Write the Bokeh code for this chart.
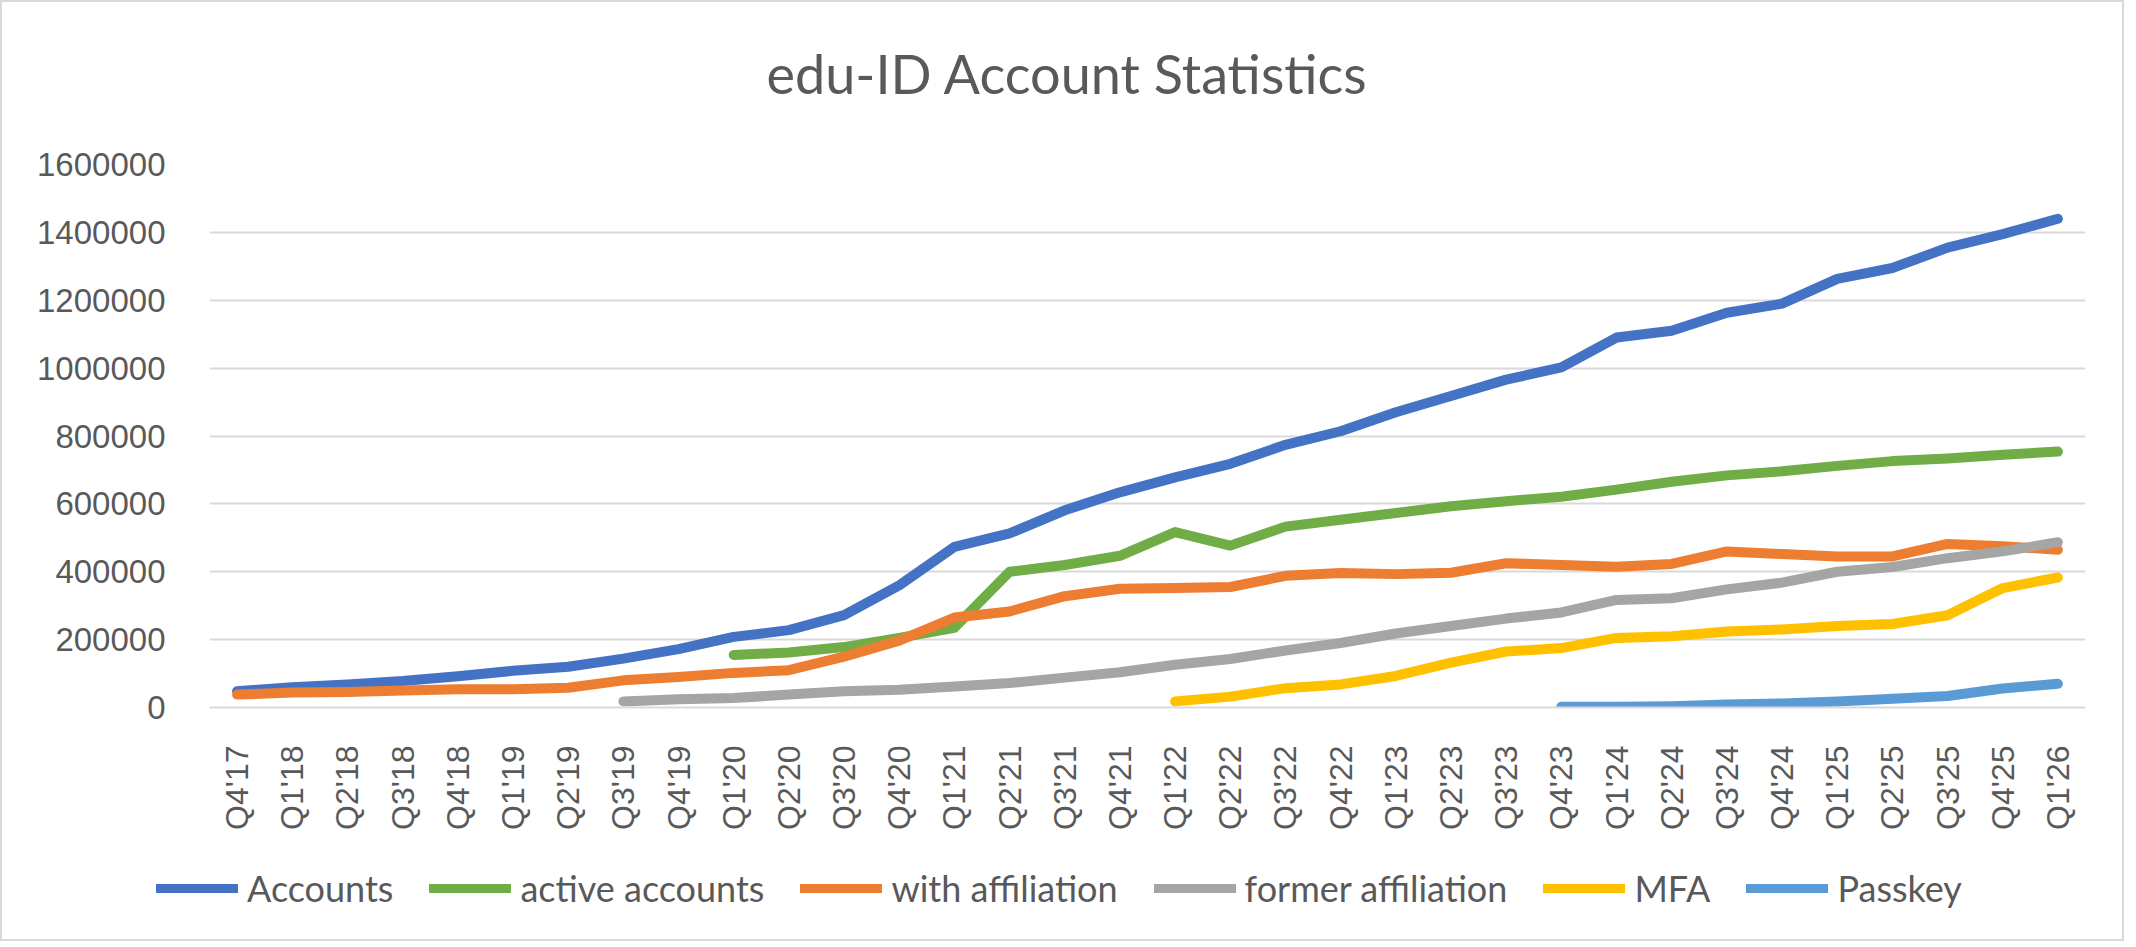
import math
from bokeh.plotting import figure
from bokeh.layouts import column
from bokeh.models import Legend, LegendItem, FactorRange, Range1d, FixedTicker, NumeralTickFormatter, Label
from bokeh.embed import file_html
from bokeh.resources import INLINE

nan = float("nan")

quarters = ["Q4'17",
            "Q1'18", "Q2'18", "Q3'18", "Q4'18",
            "Q1'19", "Q2'19", "Q3'19", "Q4'19",
            "Q1'20", "Q2'20", "Q3'20", "Q4'20",
            "Q1'21", "Q2'21", "Q3'21", "Q4'21",
            "Q1'22", "Q2'22", "Q3'22", "Q4'22",
            "Q1'23", "Q2'23", "Q3'23", "Q4'23",
            "Q1'24", "Q2'24", "Q3'24", "Q4'24",
            "Q1'25", "Q2'25", "Q3'25", "Q4'25",
            "Q1'26"]

accounts = [48000,
            60000, 68000, 78000, 92000,
            108000, 120000, 144000, 172000,
            208000, 228000, 272000, 360000,
            473000, 513000, 581000, 634000,
            678000, 718000, 774000, 814000,
            870000, 918000, 966000, 1002000,
            1090000, 1110000, 1163000, 1190000,
            1263000, 1295000, 1355000, 1395000,
            1440000]

active_accounts = [nan,
                   nan, nan, nan, nan,
                   nan, nan, nan, nan,
                   155000, 162000, 178000, 205000,
                   235000, 400000, 420000, 447000,
                   517000, 477000, 533000, 553000,
                   573000, 593000, 608000, 621000,
                   642000, 665000, 684000, 696000,
                   712000, 726000, 734000, 745000,
                   754000]

with_affiliation = [38000,
                    44000, 46000, 50000, 54000,
                    54000, 58000, 80000, 90000,
                    102000, 110000, 150000, 197000,
                    265000, 283000, 328000, 350000,
                    352000, 355000, 388000, 396000,
                    393000, 397000, 425000, 420000,
                    415000, 423000, 460000, 452000,
                    445000, 445000, 482000, 475000,
                    465000]

former_affiliation = [nan,
                      nan, nan, nan, nan,
                      nan, nan, 18000, 24000,
                      28000, 38000, 48000, 52000,
                      62000, 72000, 88000, 104000,
                      126000, 143000, 168000, 190000,
                      218000, 240000, 262000, 280000,
                      317000, 322000, 348000, 368000,
                      400000, 414000, 440000, 460000,
                      487000]

mfa = [nan,
       nan, nan, nan, nan,
       nan, nan, nan, nan,
       nan, nan, nan, nan,
       nan, nan, nan, nan,
       18000, 32000, 57000, 68000,
       93000, 132000, 165000, 175000,
       205000, 210000, 224000, 230000,
       240000, 246000, 272000, 352000,
       383000]

passkey = [nan,
           nan, nan, nan, nan,
           nan, nan, nan, nan,
           nan, nan, nan, nan,
           nan, nan, nan, nan,
           nan, nan, nan, nan,
           nan, nan, nan, 2000,
           2000, 4000, 9000, 12000,
           18000, 26000, 34000, 56000,
           70000]

y_ticks = [0, 200000, 400000, 600000, 800000, 1000000, 1200000, 1400000, 1600000]

chart_title = "edu-ID Account Statistics"

series = [
    ("Accounts", accounts, "#4472C4"),
    ("active accounts", active_accounts, "#70AD47"),
    ("with affiliation", with_affiliation, "#ED7D31"),
    ("former affiliation", former_affiliation, "#A5A5A5"),
    ("MFA", mfa, "#FFC000"),
    ("Passkey", passkey, "#5B9BD5"),
]

TEXT = "#595959"
GRID = "#D9D9D9"
W = 2120
FRAME_W = 1876   # width of the aligned plot frame


def strip(height, left, right, xmax):
    f = figure(width=W, height=height, x_range=Range1d(0, xmax), y_range=Range1d(0, height),
               output_backend="svg", toolbar_location=None,
               x_axis_location=None, y_axis_location=None,
               min_border=0, min_border_left=left, min_border_right=right,
               min_border_top=0, min_border_bottom=0)
    f.title = None
    f.grid.visible = False
    f.outline_line_color = None
    f.border_fill_color = "white"
    f.background_fill_color = "white"
    return f


# ---- title strip (frame aligned with the chart frame) ----
t = strip(118, 207, 37, FRAME_W)
t.add_layout(Label(x=858, y=47, text=chart_title, text_align="center",
                   text_baseline="middle", text_font="Lato", text_font_size="54px",
                   text_color=TEXT))

# ---- main chart ----
p = figure(width=W, height=727,
           x_range=FactorRange(*quarters), y_range=Range1d(0, 1600000),
           output_backend="svg", toolbar_location=None,
           min_border_left=207, min_border_right=37,
           min_border_top=44, min_border_bottom=140)
p.title = None
p.outline_line_color = None
p.background_fill_color = "white"
p.border_fill_color = "white"

p.xgrid.grid_line_color = None
p.ygrid.grid_line_color = GRID
p.ygrid.grid_line_width = 2

p.yaxis.ticker = FixedTicker(ticks=y_ticks)
p.yaxis.formatter = NumeralTickFormatter(format="0")
p.yaxis.axis_line_color = None
p.yaxis.major_tick_line_color = None
p.yaxis.minor_tick_line_color = None
p.yaxis.major_label_text_font = "Liberation Sans"
p.yaxis.major_label_text_font_size = "33px"
p.yaxis.major_label_text_color = TEXT
p.yaxis.major_label_standoff = 38

p.xaxis.axis_line_color = GRID
p.xaxis.axis_line_width = 2
p.xaxis.major_tick_line_color = None
p.xaxis.minor_tick_line_color = None
p.xaxis.major_tick_out = 0
p.xaxis.major_tick_in = 0
p.xaxis.major_label_orientation = math.pi / 2
p.xaxis.major_label_text_font = "Liberation Sans"
p.xaxis.major_label_text_font_size = "32px"
p.xaxis.major_label_text_color = TEXT
p.xaxis.major_label_standoff = 38

for name, vals, color in series:
    p.line(quarters, vals, line_color=color, line_width=10,
           line_cap="round", line_join="round")

# ---- legend strip (own column, full-width frame) ----
q = strip(92, 0, 0, W)
items = []
for name, vals, color in series:
    r = q.line([nan], [nan], line_color=color, line_width=9,
               line_cap="round", line_join="round")
    items.append(LegendItem(label=name, renderers=[r]))

legend = Legend(items=items, orientation="horizontal", location=(154, 29),
                glyph_width=82, glyph_height=12, label_standoff=9, spacing=36,
                label_text_font="Lato", label_text_font_size="36px",
                label_text_color=TEXT, border_line_color=None,
                background_fill_alpha=0, padding=5, margin=0)
q.add_layout(legend)

layout = column(t, p, column(q, spacing=0), spacing=0,
                styles={"border": "2px solid #D9D9D9"})

open("out.html", "w").write(file_html(layout, INLINE))
